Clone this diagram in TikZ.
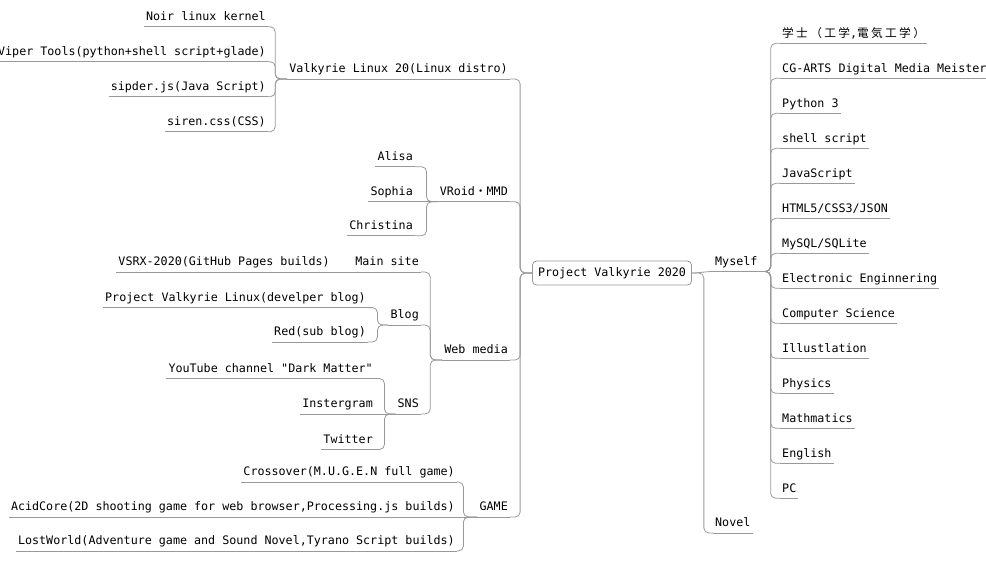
\documentclass[tikz,border=0pt]{standalone}
\usepackage{fontspec}
\setmainfont{DejaVu Sans Mono}
\newfontfamily\cjk[LetterSpace=20]{Noto Sans CJK JP}
\definecolor{linegray}{HTML}{999999}
\definecolor{boxgray}{HTML}{9A9A9A}
\newcommand{\bachelor}{{\cjk 学士（工学},{\cjk 電気工学）}}
\tikzset{
  topic/.style={font=\fontsize{11.7}{14}\selectfont, text height=9pt, text depth=6pt,
    inner ysep=0pt, inner xsep=2pt,
    append after command={(\tikzlastnode.south west) edge[uline] (\tikzlastnode.south east)}},
  uline/.style={draw=linegray, line width=1pt},
  link/.style={draw=linegray, line width=0.8pt, rounded corners=5pt},
  rootbox/.style={draw=boxgray, line width=0.8pt, rounded corners=4pt, fill=white,
    font=\fontsize{11.7}{14}\selectfont, text height=9pt, text depth=3pt,
    inner xsep=5.5pt, inner ysep=6pt}
}
\begin{document}
\begin{tikzpicture}[x=1pt,y=-1pt]
  \useasboundingbox (0,0) rectangle (986,560);
  \node[rootbox] (root) at (612,273) {Project Valkyrie 2020};

  \node[topic, anchor=south west] (myself) at (713,271.5) {Myself};
  \node[topic, anchor=south west] (novel) at (713,533) {Novel};
  \draw[link] (root.east) .. controls +(8,0) and +(-8,0) .. (myself.south west);
  \draw[link] (root.east) -- ++(12,0) |- (novel.south west);
  \foreach \skill [count=\i] in {\bachelor, CG-ARTS Digital Media Meister, Python 3,
      shell script, JavaScript, HTML5/CSS3/JSON, MySQL/SQLite, Electronic Enginnering,
      Computer Science, Illustlation, Physics, Mathmatics, English, PC} {
    \node[topic, anchor=south west] (skill\i) at (780,{43.3+35*(\i-1)}) {\skill};
    \draw[link] (myself.south east) -- ++(11,0) |- (skill\i.south west);
  }

  \node[topic, anchor=south east] (valkyrie) at (510,79) {Valkyrie Linux 20(Linux distro)};
  \node[topic, anchor=south east] (noir) at (268,26.7) {Noir linux kernel};
  \node[topic, anchor=south east] (viper) at (268,61.7) {Viper Tools(python+shell script+glade)};
  \node[topic, anchor=south east] (sipder) at (268,96.7) {sipder.js(Java Script)};
  \node[topic, anchor=south east] (siren) at (268,131.7) {siren.css(CSS)};
  \foreach \leaf in {noir,viper,sipder,siren}
    \draw[link] (valkyrie.south west) -- ++(-12,0) |- (\leaf.south east);

  \node[topic, anchor=south east] (vroid) at (510,201.7) {VRoid{\cjk ・}MMD};
  \node[topic, anchor=south east] (alisa) at (415,166.7) {Alisa};
  \node[topic, anchor=south east] (sophia) at (415,201.7) {Sophia};
  \node[topic, anchor=south east] (christina) at (415,235.7) {Christina};
  \foreach \leaf in {alisa,christina}
    \draw[link] (vroid.south west) -- ++(-11,0) |- (\leaf.south east);
  \draw[link] (vroid.south west) -- (sophia.south east);

  \node[topic, anchor=south east] (webmedia) at (510,360) {Web media};
  \node[topic, anchor=south east] (mainsite) at (421,272) {Main site};
  \node[topic, anchor=south east] (vsrx) at (332,272) {VSRX-2020(GitHub Pages builds)};
  \node[topic, anchor=south east] (blog) at (421,325) {Blog};
  \node[topic, anchor=south east] (pvlinux) at (368,307.6) {Project Valkyrie Linux(develper blog)};
  \node[topic, anchor=south east] (redblog) at (368,342) {Red(sub blog)};
  \node[topic, anchor=south east] (sns) at (421,414) {SNS};
  \node[topic, anchor=south east] (youtube) at (375,378.5) {YouTube channel \textquotedbl Dark Matter\textquotedbl};
  \node[topic, anchor=south east] (instergram) at (375,414) {Instergram};
  \node[topic, anchor=south east] (twitter) at (375,449.5) {Twitter};
  \foreach \leaf in {mainsite,blog,sns}
    \draw[link] (webmedia.south west) -- ++(-12,0) |- (\leaf.south east);
  \draw[link] (mainsite.south west) -- (vsrx.south east);
  \foreach \leaf in {pvlinux,redblog}
    \draw[link] (blog.south west) -- ++(-11,0) |- (\leaf.south east);
  \foreach \leaf in {youtube,twitter}
    \draw[link] (sns.south west) -- ++(-11,0) |- (\leaf.south east);
  \draw[link] (sns.south west) -- (instergram.south east);

  \node[topic, anchor=south east] (game) at (510,517) {GAME};
  \node[topic, anchor=south east] (crossover) at (457,482) {Crossover(M.U.G.E.N full game)};
  \node[topic, anchor=south east] (acidcore) at (457,517) {AcidCore(2D shooting game for web browser,Processing.js builds)};
  \node[topic, anchor=south east] (lostworld) at (457,551) {LostWorld(Adventure game and Sound Novel,Tyrano Script builds)};
  \foreach \leaf in {crossover,lostworld}
    \draw[link] (game.south west) -- ++(-14,0) |- (\leaf.south east);
  \draw[link] (game.south west) -- (acidcore.south east);

  \foreach \child in {valkyrie,vroid,webmedia,game}
    \draw[link] (root.west) -- ++(-12,0) |- (\child.south east);
\end{tikzpicture}
\end{document}
